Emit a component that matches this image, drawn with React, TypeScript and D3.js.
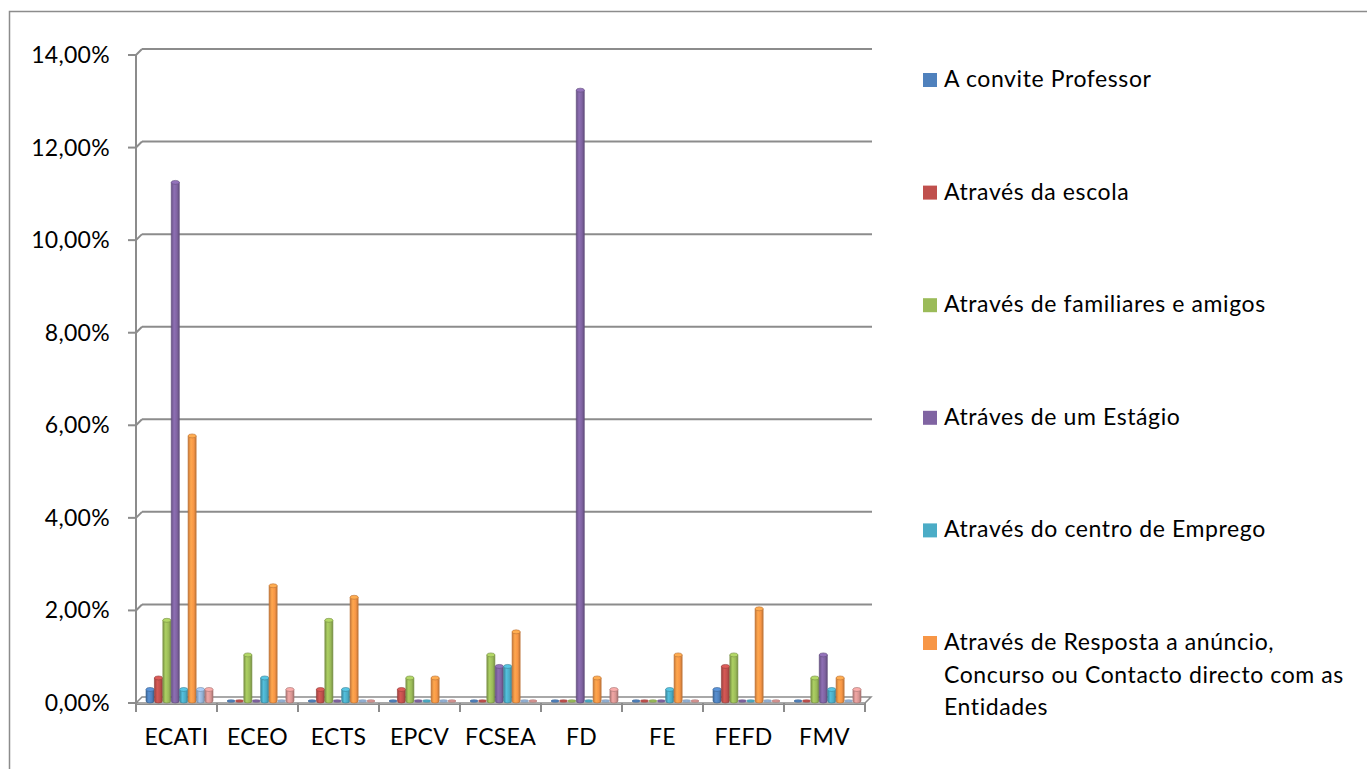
import React from "react";
import * as d3 from "d3";

const categories = ["ECATI", "ECEO", "ECTS", "EPCV", "FCSEA", "FD", "FE", "FEFD", "FMV"];
const seriesNames = [
  "A convite Professor",
  "Através da escola",
  "Através de familiares e amigos",
  "Atráves de um Estágio",
  "Através do centro de Emprego",
  "Através de Resposta a anúncio, Concurso ou Contacto directo com as Entidades",
  "Série 7",
  "Série 8",
];
const legendLines = [
  ["A convite Professor"],
  ["Através da escola"],
  ["Através de familiares e amigos"],
  ["Atráves de um Estágio"],
  ["Através do centro de Emprego"],
  ["Através de Resposta a anúncio,", "Concurso ou Contacto directo com as", "Entidades"],
];
const seriesColors = ["#4F81BD", "#C0504D", "#9BBB59", "#8064A2", "#4BACC6", "#F79646", "#95B3D7", "#D99694"];
// values in % per series (rows) per category (columns)
const sConvite = [0.25, 0, 0, 0, 0, 0, 0, 0.25, 0];
const sEscola = [0.5, 0, 0.25, 0.25, 0, 0, 0, 0.75, 0];
const sFamiliares = [1.75, 1.0, 1.75, 0.5, 1.0, 0, 0, 1.0, 0.5];
const sEstagio = [11.25, 0, 0, 0, 0.75, 13.25, 0, 0, 1.0];
const sCentro = [0.25, 0.5, 0.25, 0, 0.75, 0, 0.25, 0, 0.25];
const sAnuncio = [5.75, 2.5, 2.25, 0.5, 1.5, 0.5, 1.0, 2.0, 0.5];
const s7 = [0.25, 0, 0, 0, 0, 0, 0, 0, 0];
const s8 = [0.25, 0.25, 0, 0, 0, 0.25, 0, 0, 0.25];
const seriesValues = [sConvite, sEscola, sFamiliares, sEstagio, sCentro, sAnuncio, s7, s8];
const yTicks = [0, 2, 4, 6, 8, 10, 12, 14];

const FONT = "Lato, 'Open Sans', sans-serif";

export default function App() {
  const W = 1367, H = 769;
  const x0 = 136, x1 = 865;
  const dx = 6, dy = -6;
  const yFront = d3.scaleLinear().domain([0, 14]).range([703, 55]);
  const yBar = d3.scaleLinear().domain([0, 14]).range([703, 703 - 14 * 46.1]);
  const xCat = d3.scaleBand<string>().domain(categories).range([x0, x1]).padding(0);
  const xSer = d3.scaleBand<string>().domain(seriesNames).range([10, 77]).paddingInner(0.04);
  const bw = xSer.bandwidth();
  const fmt = (v: number) => v.toFixed(2).replace(".", ",") + "%";
  const grid = "#8c8c8c";

  return (
    <svg width={W} height={H} style={{ position: "absolute", left: 0, top: 0, background: "#fff" }}>
      <defs>
        {seriesColors.map((c, i) => {
          const base = d3.color(c)!;
          return (
            <linearGradient key={i} id={`g${i}`} x1="0" x2="1" y1="0" y2="0">
              <stop offset="0%" stopColor={base.darker(0.6).toString()} />
              <stop offset="35%" stopColor={base.brighter(0.3).toString()} />
              <stop offset="70%" stopColor={c} />
              <stop offset="100%" stopColor={base.darker(0.7).toString()} />
            </linearGradient>
          );
        })}
      </defs>
      <rect x={9.5} y={11.5} width={1400} height={800} fill="none" stroke="#8c8c8c" strokeWidth={1.5} />

      {/* floor */}
      <polygon
        points={`${x0},${yFront(0)} ${x1},${yFront(0)} ${x1 + dx},${yFront(0) + dy} ${x0 + dx},${yFront(0) + dy}`}
        fill="#fff" stroke={grid} strokeWidth={1.5}
      />
      <line x1={x0} x2={x1} y1={yFront(0) + 1.5} y2={yFront(0) + 1.5} stroke={grid} strokeWidth={1} />

      {/* gridlines on back wall */}
      {yTicks.map((t) => (
        <g key={t}>
          {t > 0 && (
            <>
              <line x1={x0 + dx} x2={x1 + dx + 1} y1={yFront(t) + dy} y2={yFront(t) + dy} stroke={grid} strokeWidth={2} />
              <line x1={x0} x2={x0 + dx} y1={yFront(t)} y2={yFront(t) + dy} stroke={grid} strokeWidth={2} />
            </>
          )}
          <line x1={x0 - 8} x2={x0} y1={yFront(t)} y2={yFront(t)} stroke={grid} strokeWidth={2} />
          <text x={110} y={yFront(t) + 8} textAnchor="end" fontFamily={FONT} fontSize={23} letterSpacing={0.3} fill="#000">
            {fmt(t)}
          </text>
        </g>
      ))}
      <line x1={x0} x2={x0} y1={yFront(14)} y2={yFront(0)} stroke={grid} strokeWidth={2} />

      {/* category ticks and labels */}
      {d3.range(categories.length + 1).map((i) => {
        const xx = x0 + i * xCat.bandwidth();
        return <line key={i} x1={xx} x2={xx} y1={yFront(0)} y2={yFront(0) + 9} stroke={grid} strokeWidth={2} />;
      })}
      {categories.map((c) => (
        <text key={c} x={xCat(c)! + xCat.bandwidth() / 2} y={745} textAnchor="middle" fontFamily={FONT} fontSize={23} letterSpacing={0.3} fill="#000">
          {c}
        </text>
      ))}

      {/* bars */}
      {categories.map((c, ci) => (
        <g key={c}>
          {seriesNames.map((s, si) => {
            const v = seriesValues[si][ci];
            const bx = xCat(c)! + xSer(s)!;
            const cx = bx + bw / 2;
            const yb = yBar(0) - 2;
            const yt = yBar(v) - 2;
            const col = seriesColors[si];
            const dark = d3.color(col)!.darker(0.8).toString();
            if (v <= 0) {
              return <ellipse key={s} cx={cx} cy={yb} rx={bw / 2} ry={1.3} fill={col} stroke={dark} strokeWidth={0.5} />;
            }
            return (
              <g key={s}>
                <path
                  d={`M${bx},${yt} L${bx},${yb} A${bw / 2},2 0 0 0 ${bx + bw},${yb} L${bx + bw},${yt} Z`}
                  fill={`url(#g${si})`} stroke={dark} strokeWidth={0.6}
                />
                <ellipse cx={cx} cy={yt} rx={bw / 2} ry={2} fill={d3.color(col)!.brighter(0.4).toString()} stroke={dark} strokeWidth={0.6} />
              </g>
            );
          })}
        </g>
      ))}

      {/* legend */}
      {legendLines.map((lines, i) => {
        const by = 87 + i * 112.6;
        return (
          <g key={i}>
            <rect x={923} y={by - 14} width={14} height={14} fill={seriesColors[i]} />
            <text x={944} y={by} fontFamily={FONT} fontSize={23} letterSpacing={0.6} fill="#000">
              {lines.map((ln, li) => (
                <tspan key={li} x={944} y={by + li * 32.5}>{ln}</tspan>
              ))}
            </text>
          </g>
        );
      })}
    </svg>
  );
}
